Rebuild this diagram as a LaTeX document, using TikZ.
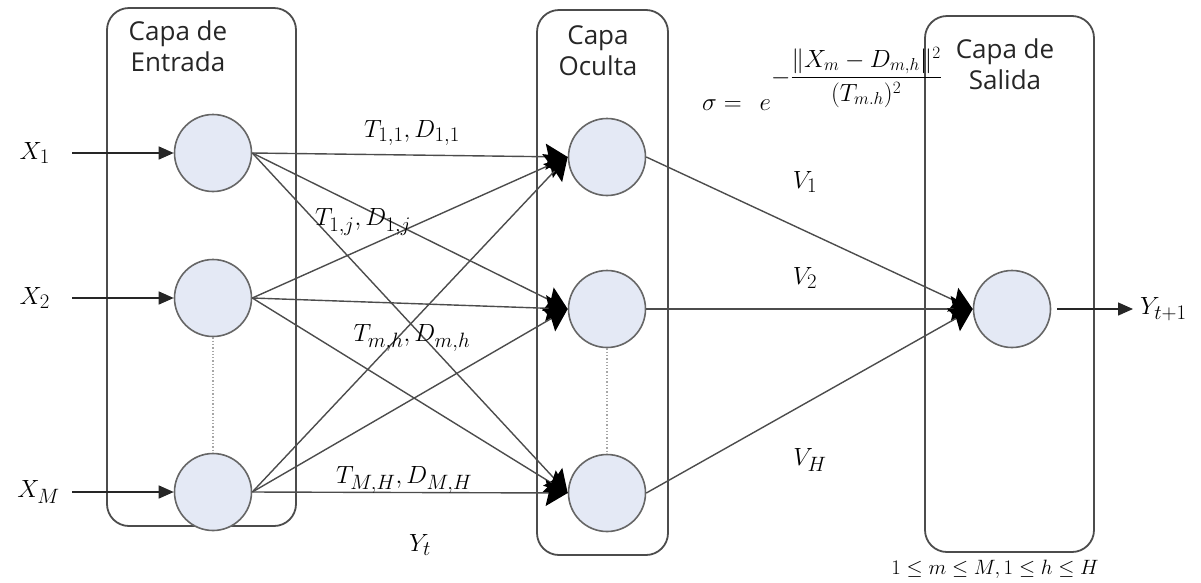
\documentclass[tikz,border=0pt]{standalone}
\usepackage{amsmath}
\usepackage{fontspec}
\setmainfont{Open Sans}
\usetikzlibrary{arrows.meta,positioning}
\definecolor{neuronfill}{RGB}{228,233,245}

\begin{document}
\begin{tikzpicture}[
    x=1pt, y=-1pt,
    layer/.style={draw=black!70, line width=1.8pt, rounded corners=22pt},
    neuron/.style={circle, draw=black!60, fill=neuronfill, minimum size=77pt, inner sep=0pt, line width=1.6pt},
    link/.style={draw=black!70, line width=1.4pt, -{Stealth[length=22pt, width=26pt, inset=3pt, color=black]}},
    feed/.style={draw=black!85, line width=1.4pt, -{Triangle[length=15pt, width=13pt]}},
    dots/.style={draw=black!35, dotted, line width=1.3pt},
    lbl/.style={inner sep=2pt, font=\fontsize{30}{36}\selectfont},
    title/.style={align=center, text=black!85, font=\fontsize{26}{31}\selectfont}
]
\useasboundingbox (0,0) rectangle (1201,582);

% layers
\draw[layer] (107,8) rectangle (296,526);
\draw[layer] (537,10) rectangle (668,555);
\draw[layer] (925,16) rectangle (1094,552);

\node[title] at (178,46) {Capa de\\Entrada};
\node[title] at (598,51) {Capa\\Oculta};
\node[title] at (1005,64) {Capa de\\Salida};

% neurons
\node[neuron] (in1) at (213,153) {};
\node[neuron] (in2) at (213,298) {};
\node[neuron] (inM) at (213,492) {};
\node[neuron] (hid1) at (607,157) {};
\node[neuron] (hid2) at (607,309) {};
\node[neuron] (hidH) at (607,493) {};
\node[neuron] (out) at (1012,309) {};

\draw[dots] (in2.south) -- (inM.north);
\draw[dots] (hid2.south) -- (hidH.north);

% inputs and output
\coordinate (x1) at (72,153);
\coordinate (x2) at (72,298);
\coordinate (xM) at (72,492);
\coordinate (yout) at (1133,309);
\node[lbl, left=20pt of x1] {$X_1$};
\node[lbl, left=20pt of x2] {$X_2$};
\node[lbl, left=10pt of xM] {$X_M$};
\node[lbl, right=5pt of yout] {$Y_{t+1}$};
\draw[feed] (x1) -- (in1.west);
\draw[feed] (x2) -- (in2.west);
\draw[feed] (xM) -- (inM.west);
\draw[feed, shorten <=6pt] (out.east) -- (yout);

% input to hidden
\draw[link] (in1.east) -- (hid1.west);
\draw[link] (in1.east) -- (hid2.west);
\draw[link] (in1.east) -- (hidH.west);
\draw[link] (in2.east) -- (hid1.west);
\draw[link] (in2.east) -- (hid2.west);
\draw[link] (in2.east) -- (hidH.west);
\draw[link] (inM.east) -- (hid1.west);
\draw[link] (inM.east) -- (hid2.west);
\draw[link] (inM.east) -- (hidH.west);

% hidden to output
\draw[link] (hid1.east) -- (out.west);
\draw[link] (hid2.east) -- (out.west);
\draw[link] (hidH.east) -- (out.west);

% weights
\node[lbl] at (412,133) {$T_{1,1}, D_{1,1}$};
\node[lbl] at (363,222) {$T_{1,j}, D_{1,j}$};
\node[lbl] at (412,338) {$T_{m,h}, D_{m,h}$};
\node[lbl] at (404,480) {$T_{M,H}, D_{M,H}$};
\node[lbl] at (420,545) {$Y_t$};
\node[lbl] at (805,182) {$V_1$};
\node[lbl] at (805,278) {$V_2$};
\node[lbl] at (810,460) {$V_H$};

\node[lbl, anchor=base west, inner sep=0pt] at (702,110)
    {$\sigma = \;\, e^{\mbox{\fontsize{24}{28}\selectfont$-\dfrac{\lVert X_m - D_{m,h}\rVert^2}{(T_{m.h})^2}$}}$};
\node[font=\fontsize{20}{24}\selectfont] at (995,569) {$1 \le m \le M, 1 \le h \le H$};
\end{tikzpicture}
\end{document}
